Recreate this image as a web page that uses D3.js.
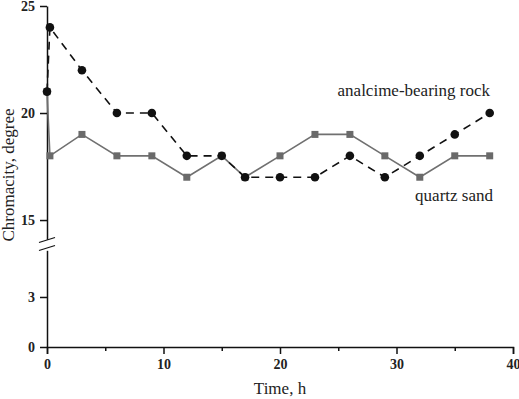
<!DOCTYPE html>
<html>
<head>
<meta charset="utf-8">
<script src="https://cdn.jsdelivr.net/npm/d3@7"></script>
<style>
  html, body { margin: 0; padding: 0; background: #fff; }
  svg { display: block; }
</style>
</head>
<body>
<svg id="chart" width="519" height="399"></svg>
<script>
// ---- data ----
const timeRock = [0, 0.25, 3, 6, 9, 12, 15, 17, 20, 23, 26, 29, 32, 35, 38];
const rockValues = [21, 24, 22, 20, 20, 18, 18, 17, 17, 17, 18, 17, 18, 19, 20];
const timeSand = [0, 0.25, 3, 6, 9, 12, 15, 17, 20, 23, 26, 29, 32, 35, 38];
const sandValues = [21, 18, 19, 18, 18, 17, 18, 17, 18, 19, 19, 18, 17, 18, 18];
const xTickValues = [0, 10, 20, 30, 40];
const xMinorTicks = [5, 15, 25, 35];
const yUpperTicks = [15, 20, 25];
const yLowerTicks = [0, 3];
const seriesNames = ["analcime-bearing rock", "quartz sand"];

// ---- layout ----
const svg = d3.select("#chart");
const serif = "'Liberation Serif', 'Times New Roman', serif";
const x = d3.scaleLinear().domain([0, 40]).range([47, 513]);
const yUp = d3.scaleLinear().domain([14.1, 25]).range([239.3, 6]);
const yLow = d3.scaleLinear().domain([0, 5.8]).range([347, 250.3]);
const y = v => v >= 10 ? yUp(v) : yLow(v);
const fmt = d3.format("d");

// ---- axes ----
svg.append("g").attr("transform", `translate(0,${yLow(0)})`)
  .call(d3.axisBottom(x).tickValues(xTickValues).tickSize(7).tickPadding(5).tickFormat(fmt));
svg.append("g").attr("transform", `translate(0,${yLow(0)})`)
  .call(d3.axisBottom(x).tickValues(xMinorTicks).tickSize(4).tickFormat(""))
  .select(".domain").remove();

svg.append("g").attr("transform", `translate(${x(0)},0)`)
  .call(d3.axisLeft(yUp).tickValues(yUpperTicks).tickSize(7).tickPadding(5).tickSizeOuter(0).tickFormat(fmt));
svg.append("g").attr("transform", `translate(${x(0)},0)`)
  .call(d3.axisLeft(yLow).tickValues(yLowerTicks).tickSize(7).tickPadding(5).tickSizeOuter(0).tickFormat(fmt));

svg.selectAll(".domain").attr("stroke", "#111").attr("stroke-width", 1.5);
svg.selectAll(".tick line").attr("stroke", "#111").attr("stroke-width", 1.5);
svg.selectAll(".tick text").attr("font-family", serif).attr("font-size", 14)
  .attr("font-weight", "bold").attr("fill", "#222");

// axis break marks
const brk = svg.append("g").attr("stroke", "#111").attr("stroke-width", 1.2);
[240, 248].forEach(cy => {
  brk.append("line").attr("x1", x(0) - 8).attr("x2", x(0) + 8)
    .attr("y1", cy + 2.5).attr("y2", cy - 2.5);
});

// ---- series ----
const line = d3.line().x(d => x(d[0])).y(d => y(d[1]));
const sandPts = timeSand.map((t, i) => [t, sandValues[i]]);
const rockPts = timeRock.map((t, i) => [t, rockValues[i]]);

svg.append("path").datum(sandPts).attr("d", line)
  .attr("fill", "none").attr("stroke", "#707070").attr("stroke-width", 1.6);
svg.selectAll(".sq").data(sandPts).enter().append("rect")
  .attr("x", d => x(d[0]) - 3.5).attr("y", d => y(d[1]) - 3.5)
  .attr("width", 7).attr("height", 7).attr("fill", "#6a6a6a");

svg.append("path").datum(rockPts).attr("d", line)
  .attr("fill", "none").attr("stroke", "#111").attr("stroke-width", 1.6)
  .attr("stroke-dasharray", "8,6");
svg.selectAll(".ci").data(rockPts).enter().append("circle")
  .attr("cx", d => x(d[0])).attr("cy", d => y(d[1])).attr("r", 4.3)
  .attr("fill", "#111");

// ---- labels ----
const label = (px, py, anchor, txt) => svg.append("text")
  .attr("x", px).attr("y", py).attr("text-anchor", anchor)
  .attr("font-family", serif).attr("font-size", 17).attr("font-weight", "normal")
  .attr("fill", "#222").text(txt);
label(490, 96, "end", seriesNames[0]);
label(493, 201, "end", seriesNames[1]);
label(280, 394, "middle", "Time, h");
svg.append("text").attr("transform", "translate(14,175) rotate(-90)")
  .attr("text-anchor", "middle")
  .attr("font-family", serif).attr("font-size", 17).attr("font-weight", "normal")
  .attr("fill", "#222").text("Chromacity, degree");
</script>
</body>
</html>
